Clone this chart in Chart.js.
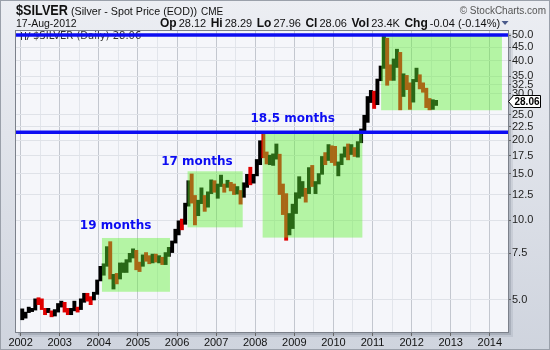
<!DOCTYPE html>
<html>
<head>
<meta charset="utf-8">
<script src="https://cdn.jsdelivr.net/npm/chart.js@4.4.1/dist/chart.umd.min.js"></script>
<style>
  html, body { margin: 0; padding: 0; background: #dde1e8; }
  #wrap { width: 550px; height: 350px; }
</style>
</head>
<body>
<div id="wrap"><canvas id="chart" width="550" height="350"></canvas></div>
<script>
/*
 * $SILVER monthly range bars, Jan 2002 .. Aug 2012, on a log price axis,
 * with the consolidation zones and the two horizontal levels marked.
 */

var firstYear = 2002;

// one row per year, Jan..Dec
var lows = [
    4.21, 4.27, 4.48, 4.52, 4.58, 4.80, 4.60, 4.40, 4.48, 4.32, 4.35, 4.50,
    4.70, 4.50, 4.40, 4.40, 4.55, 4.50, 4.60, 4.90, 4.95, 4.80, 5.00, 5.25,
    5.90, 6.20, 6.70, 6.00, 5.50, 5.75, 6.00, 6.35, 6.35, 6.95, 7.20, 6.50,
    6.40, 6.70, 7.00, 6.85, 6.90, 6.95, 6.90, 6.80, 6.80, 7.30, 7.55, 8.20,
    8.80, 9.20, 9.65, 11.30, 11.60, 9.60, 10.40, 11.55, 10.80, 11.20, 12.60, 12.75,
    12.10, 13.40, 12.75, 13.30, 12.90, 12.50, 12.55, 11.50, 12.20, 13.30, 13.60, 13.80,
    14.70, 16.20, 17.20, 16.30, 16.20, 16.10, 17.00, 12.50, 10.50, 8.40, 8.80, 9.30,
    10.60, 12.10, 12.30, 11.70, 12.60, 13.40, 12.60, 13.70, 14.90, 16.20, 16.80, 16.50,
    16.10, 14.70, 16.20, 17.30, 16.90, 17.70, 17.40, 17.30, 19.60, 21.70, 23.40, 27.80,
    26.40, 27.30, 33.60, 37.40, 32.30, 33.70, 33.70, 37.70, 26.10, 29.30, 31.10, 26.20,
    27.90, 33.30, 31.30, 30.40, 26.60, 26.10, 26.20, 27.10
];
var highs = [
    4.63, 4.50, 4.70, 4.65, 5.05, 5.10, 5.05, 4.65, 4.65, 4.55, 4.60, 4.85,
    4.95, 4.90, 4.65, 4.65, 4.95, 4.70, 5.05, 5.30, 5.30, 5.15, 5.35, 5.95,
    6.70, 6.85, 7.95, 8.30, 6.25, 6.30, 6.90, 6.90, 7.10, 7.50, 7.80, 7.70,
    6.95, 7.40, 7.55, 7.35, 7.45, 7.45, 7.35, 7.25, 7.55, 7.90, 8.35, 9.25,
    9.95, 10.10, 11.60, 14.10, 14.95, 12.40, 11.90, 13.25, 12.40, 12.80, 14.20, 14.10,
    13.70, 14.80, 13.70, 14.15, 13.90, 13.70, 13.40, 12.95, 13.85, 14.90, 15.85, 14.90,
    16.95, 19.95, 21.30, 18.10, 17.60, 17.80, 19.40, 17.75, 13.70, 12.60, 10.60, 11.50,
    12.70, 14.60, 14.00, 13.20, 15.80, 16.10, 14.00, 15.00, 17.40, 18.00, 19.30, 19.10,
    19.00, 16.60, 17.80, 18.90, 19.40, 19.30, 18.80, 19.80, 22.10, 24.90, 29.30, 30.90,
    30.70, 34.10, 38.20, 49.80, 48.60, 38.60, 40.60, 44.20, 43.00, 35.70, 35.20, 33.00,
    34.00, 37.50, 35.40, 33.00, 31.50, 28.80, 28.50, 28.35
];
var closes = [
    4.23, 4.48, 4.58, 4.60, 4.95, 4.90, 4.62, 4.55, 4.55, 4.40, 4.50, 4.70,
    4.85, 4.55, 4.45, 4.55, 4.70, 4.55, 5.00, 5.15, 5.10, 5.05, 5.30, 5.90,
    6.30, 6.70, 7.90, 6.00, 6.05, 5.90, 6.60, 6.80, 6.95, 7.30, 7.60, 6.85,
    6.75, 7.35, 7.15, 7.00, 7.40, 7.05, 7.25, 6.85, 7.50, 7.65, 8.25, 8.85,
    9.90, 9.70, 11.55, 13.70, 12.50, 10.90, 11.40, 12.45, 11.50, 12.70, 13.90, 12.90,
    13.40, 14.10, 13.30, 13.40, 13.20, 12.55, 12.95, 12.05, 13.75, 14.60, 14.40, 14.75,
    16.80, 19.80, 17.20, 16.40, 16.90, 17.50, 17.70, 13.60, 12.90, 9.50, 10.20, 11.30,
    12.60, 12.90, 13.10, 12.50, 15.70, 13.60, 13.90, 14.90, 16.60, 16.30, 18.60, 16.90,
    16.20, 16.40, 17.50, 18.70, 18.40, 18.70, 18.00, 19.60, 22.00, 24.40, 28.30, 30.60,
    27.90, 34.00, 37.80, 48.60, 38.40, 34.80, 40.10, 41.40, 30.40, 34.60, 32.70, 27.90,
    33.20, 34.50, 32.50, 31.20, 27.60, 27.40, 27.40, 28.06
];

var yTicks = [5, 7.5, 10, 12.5, 15, 17.5, 20, 22.5, 25, 30, 32.5, 35, 40, 45, 50];
var yearTicks = [2002, 2003, 2004, 2005, 2006, 2007, 2008, 2009, 2010, 2011, 2012, 2013, 2014];

// consolidation zones (green boxes)
var zoneStart = [2004.08, 2006.27, 2008.19, 2011.22];
var zoneEnd   = [2005.82, 2007.68, 2010.74, 2014.31];
var zoneLow   = [5.37, 9.40, 8.60, 26.0];
var zoneHigh  = [8.57, 15.3, 21.5, 50.0];

// horizontal levels (blue lines)
var levels = [50, 21.5];

var zoneLabels = ['19 months', '17 months', '18.5 months'];
var zoneLabelX = [2004.43, 2006.51, 2008.96];
var zoneLabelY = [9.5, 16.55, 24.1];

var quoteKeys   = ['Op', 'Hi', 'Lo', 'Cl', 'Vol', 'Chg'];
var quoteValues = ['28.12', '28.29', '27.96', '28.06', '23.4K', '-0.04 (-0.14%)'];

var SANS = '"Liberation Sans", Arial, sans-serif';
var BLUE = '#0c0cf2';

var points = lows.map(function(lo, i) {
    return { x: firstYear + (i + 0.5) / 12, y: [lo, highs[i]] };
});
var barColors = closes.map(function(c, i) {
    var prev = i ? closes[i - 1] : lows[0];
    return c >= prev ? '#000000' : '#e00000';
});

// draw text squeezed horizontally if it runs wider than maxW
function fitText(ctx, text, x, y, maxW) {
    var w = ctx.measureText(text).width;
    if (maxW && w > maxW) {
        ctx.save();
        ctx.translate(x, y);
        ctx.scale(maxW / w, 1);
        ctx.fillText(text, 0, 0);
        ctx.restore();
        return maxW;
    }
    ctx.fillText(text, x, y);
    return w;
}

var decor = {
    id: 'decor',
    beforeDraw: function(chart) {
        var ctx = chart.ctx, a = chart.chartArea;
        ctx.save();
        var g = ctx.createLinearGradient(0, 0, 0, chart.height);
        g.addColorStop(0, '#eceef3');
        g.addColorStop(1, '#cfd4de');
        ctx.fillStyle = g;
        ctx.fillRect(0, 0, chart.width, chart.height);
        // soft drop shadow under the plot
        ctx.fillStyle = 'rgba(60,70,90,0.18)';
        ctx.fillRect(a.left + 2, a.top + 2, a.right - a.left + 1, a.bottom - a.top + 1);
        ctx.fillStyle = 'rgba(60,70,90,0.10)';
        ctx.fillRect(a.left + 3, a.top + 3, a.right - a.left + 2, a.bottom - a.top + 2);
        ctx.fillStyle = '#f5f6fa';
        ctx.fillRect(a.left, a.top, a.right - a.left, a.bottom - a.top);
        ctx.restore();
    },
    afterDatasetsDraw: function(chart) {
        var ctx = chart.ctx, a = chart.chartArea;
        var xs = chart.scales.x, ys = chart.scales.y;
        ctx.save();
        ctx.beginPath();
        ctx.rect(a.left, a.top, a.right - a.left, a.bottom - a.top);
        ctx.clip();

        // green zones laid over the bars
        ctx.fillStyle = 'rgba(95,242,51,0.43)';
        zoneStart.forEach(function(s, i) {
            var x0 = xs.getPixelForValue(s), x1 = xs.getPixelForValue(zoneEnd[i]);
            var y0 = ys.getPixelForValue(zoneHigh[i]), y1 = ys.getPixelForValue(zoneLow[i]);
            ctx.fillRect(x0, y0, x1 - x0, y1 - y0);
        });

        // legend line, mostly hidden by the top level
        ctx.fillStyle = '#333';
        ctx.font = '10px "DejaVu Sans", Verdana, sans-serif';
        ctx.textBaseline = 'middle';
        ctx.fillText('$SILVER (Daily) 28.06', a.left + 17, a.top + 5);
        ctx.strokeStyle = '#333';
        ctx.lineWidth = 1;
        ctx.beginPath();
        ctx.moveTo(a.left + 5.5, a.top + 1); ctx.lineTo(a.left + 5.5, a.top + 9);
        ctx.moveTo(a.left + 9.5, a.top + 1); ctx.lineTo(a.left + 9.5, a.top + 9);
        ctx.moveTo(a.left + 11, a.top + 9); ctx.lineTo(a.left + 14, a.top + 1);
        ctx.stroke();

        // blue levels
        ctx.strokeStyle = BLUE;
        ctx.lineWidth = 3.5;
        levels.forEach(function(v) {
            var y = ys.getPixelForValue(v);
            ctx.beginPath();
            ctx.moveTo(a.left, y);
            ctx.lineTo(a.right, y);
            ctx.stroke();
        });

        // duration labels
        ctx.fillStyle = BLUE;
        ctx.font = 'bold 12px "DejaVu Sans", Verdana, sans-serif';
        ctx.textAlign = 'center';
        ctx.textBaseline = 'middle';
        zoneLabels.forEach(function(t, i) {
            ctx.fillText(t, xs.getPixelForValue(zoneLabelX[i]), ys.getPixelForValue(zoneLabelY[i]));
        });
        ctx.restore();
    },
    afterDraw: function(chart) {
        var ctx = chart.ctx, a = chart.chartArea, ys = chart.scales.y;
        ctx.save();

        // plot frame
        ctx.strokeStyle = '#7c818b';
        ctx.lineWidth = 1;
        ctx.strokeRect(a.left - 0.5, a.top - 0.5, a.right - a.left + 1, a.bottom - a.top + 1);

        // outer frame
        ctx.strokeStyle = '#9aa0aa';
        ctx.strokeRect(0.5, 0.5, chart.width - 1, chart.height - 1);

        // title rows
        ctx.textBaseline = 'alphabetic';
        ctx.textAlign = 'left';
        ctx.fillStyle = '#111';
        ctx.font = 'bold 14px ' + SANS;
        fitText(ctx, '$SILVER', 16, 15, 52);
        ctx.font = '11px ' + SANS;
        fitText(ctx, '(Silver - Spot Price (EOD))', 71, 15, 126);
        ctx.font = '10px ' + SANS;
        ctx.fillText('CME', 201, 15);
        ctx.fillStyle = '#555';
        ctx.font = '10px ' + SANS;
        ctx.textAlign = 'right';
        ctx.fillText('\u00A9 StockCharts.com', 546, 14);

        ctx.textAlign = 'left';
        ctx.fillStyle = '#111';
        ctx.font = '10.5px ' + SANS;
        ctx.fillText('17-Aug-2012', 16, 27);

        var x = 160;
        quoteKeys.forEach(function(k, i) {
            ctx.font = 'bold 12px ' + SANS;
            ctx.fillText(k, x, 27);
            x += ctx.measureText(k).width + 2;
            ctx.font = '11px ' + SANS;
            ctx.fillText(quoteValues[i], x, 27);
            x += ctx.measureText(quoteValues[i]).width + 4.5;
        });
        ctx.fillStyle = '#4a5a8a';
        ctx.beginPath();
        ctx.moveTo(x - 3, 21); ctx.lineTo(x + 4, 21); ctx.lineTo(x + 0.5, 25);
        ctx.closePath();
        ctx.fill();

        // last price tag on the axis
        var last = closes[closes.length - 1];
        var yp = Math.round(ys.getPixelForValue(last)) + 0.5;
        var x0 = a.right + 0.5;
        ctx.beginPath();
        ctx.moveTo(x0, yp);
        ctx.lineTo(x0 + 5, yp - 6);
        ctx.lineTo(x0 + 32, yp - 6);
        ctx.lineTo(x0 + 32, yp + 6);
        ctx.lineTo(x0 + 5, yp + 6);
        ctx.closePath();
        ctx.fillStyle = '#ffffff';
        ctx.fill();
        ctx.strokeStyle = '#000';
        ctx.lineWidth = 1;
        ctx.stroke();
        ctx.fillStyle = '#000';
        ctx.font = 'bold 11px ' + SANS;
        ctx.textBaseline = 'middle';
        fitText(ctx, last.toFixed(2), x0 + 6, yp + 0.5, 25);
        ctx.restore();
    }
};

new Chart(document.getElementById('chart'), {
    type: 'bar',
    data: {
        datasets: [{
            label: '$SILVER',
            data: points,
            backgroundColor: barColors,
            borderWidth: 0,
            barPercentage: 1.0,
            categoryPercentage: 1.0,
        }],
    },
    options: {
        responsive: false,
        animation: false,
        layout: { padding: { left: 16, top: 31, right: 0, bottom: 0 } },
        plugins: {
            legend: { display: false },
            tooltip: { enabled: false },
        },
        scales: {
            x: {
                type: 'linear',
                offset: false,
                min: 2001.882,
                max: 2014.465,
                afterBuildTicks: function(scale) {
                    var t = [];
                    yearTicks.forEach(function(y) {
                        t.push({ value: y });
                        if (y < 2014) t.push({ value: y + 0.5 });
                    });
                    scale.ticks = t;
                },
                afterFit: function(scale) { scale.height = 18; },
                ticks: {
                    autoSkip: false,
                    maxRotation: 0,
                    padding: 0,
                    color: '#111',
                    font: { family: SANS, size: 11 },
                    callback: function(v) { return Number.isInteger(v) ? String(v) : ''; },
                },
                grid: {
                    offset: false,
                    color: function(c) {
                        return c.tick && Number.isInteger(c.tick.value) ? '#c3c7cf' : '#e2e5eb';
                    },
                    tickColor: function(c) {
                        return c.tick && Number.isInteger(c.tick.value) ? '#666' : 'rgba(0,0,0,0)';
                    },
                    tickLength: 4,
                },
                border: { display: false },
            },
            y: {
                type: 'logarithmic',
                position: 'right',
                min: 3.786,
                max: 51.77,
                afterBuildTicks: function(scale) {
                    scale.ticks = yTicks.map(function(v) { return { value: v }; });
                },
                afterFit: function(scale) { scale.width = 42; },
                ticks: {
                    autoSkip: false,
                    padding: 1,
                    color: '#222',
                    font: { family: SANS, size: 11 },
                    callback: function(v) { return Number(v).toFixed(1); },
                },
                grid: {
                    color: '#dfe2e8',
                    tickColor: '#666',
                    tickLength: 3,
                },
                border: { display: false },
            },
        },
    },
    plugins: [decor],
});
</script>
</body>
</html>
